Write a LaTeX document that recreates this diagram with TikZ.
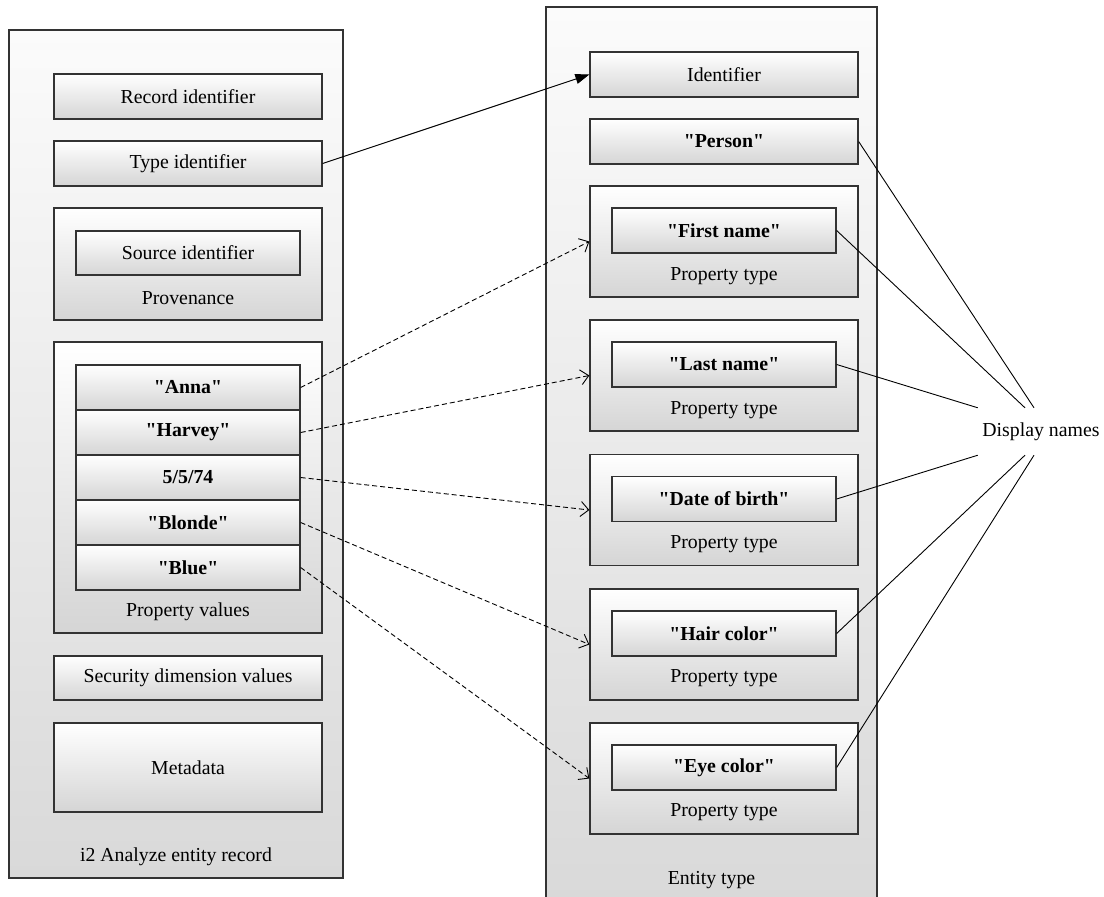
\documentclass[tikz,border=0pt]{standalone}
\usepackage{fontspec}
\setmainfont[Ligatures=TeXOff]{Liberation Serif}
\usetikzlibrary{positioning, calc, arrows.meta}
\definecolor{edge}{HTML}{333333}
\definecolor{conttop}{HTML}{FBFBFB}
\definecolor{contbot}{HTML}{D9D9D9}
\definecolor{fieldbot}{HTML}{D5D5D5}
\tikzset{
	record/.style={draw=edge, line width=1.3pt, top color=conttop, bottom color=contbot, inner sep=0pt},
	field/.style={draw=edge, line width=1.3pt, top color=white, bottom color=fieldbot, minimum width=268pt, minimum height=45pt, inner sep=0pt},
	subfield/.style={field, minimum width=224pt},
	group/.style={field, minimum height=111pt},
	caption/.style={inner sep=0pt},
	typelink/.style={line width=1pt, -{Triangle[length=14pt, width=10pt]}},
	maplink/.style={line width=0.9pt, dash pattern=on 5pt off 3pt, -{Straight Barb[length=8pt, width=15pt]}},
	namelink/.style={line width=0.9pt}
}
\begin{document}
\begin{tikzpicture}[x=1pt, y=-1pt, font=\fontsize{19.8}{23}\selectfont]
		\useasboundingbox (0, 0) rectangle (1104, 897);
		% entity record
		\node[record, minimum width=334pt, minimum height=848pt] (rec) at (176, 454) {};
		\node[field] (recid) at (188, 96.5) {Record identifier};
		\node[field] (typeid) at (188, 163.5) {Type identifier};
		\node[group, minimum height=112pt] (prov) at (188, 264) {};
		\node[subfield, minimum height=44pt] (srcid) at (188, 253) {Source identifier};
		\node[caption] (provlbl) at (188, 298) {Provenance};
		\node[group, minimum height=291pt] (pvals) at (188, 487.5) {};
		\node[subfield] (anna) at (188, 387.5) {\bfseries "Anna"};
		\node[subfield] (harvey) at (188, 432.5) {\bfseries "Harvey"};
		\node[subfield] (dob) at (188, 477.5) {\bfseries 5/5/74};
		\node[subfield] (blonde) at (188, 522.5) {\bfseries "Blonde"};
		\node[subfield] (blue) at (188, 567.5) {\bfseries "Blue"};
		\node[caption] (pvalslbl) at (188, 612) {Property values};
		\node[field, minimum height=44pt] (secdim) at (188, 678) {Security dimension values};
		\node[field, minimum height=89pt] (meta) at (188, 767.5) {Metadata};
		\node[caption] (reclbl) at (176, 857) {i2 Analyze entity record};
		% entity type
		\node[record, minimum width=331pt, minimum height=896pt] (etype) at (711.5, 455) {};
		\node[field] (ident) at (724, 74.5) {Identifier};
		\node[field] (person) at (724, 141.5) {\bfseries "Person"};
		\node[group] (ptfirst) at (724, 241.5) {};
		\node[subfield] (first) at (724, 230.5) {\bfseries "First name"};
		\node[caption] at (724, 276) {Property type};
		\node[group] (ptlast) at (724, 375.5) {};
		\node[subfield] (last) at (724, 364.5) {\bfseries "Last name"};
		\node[caption] at (724, 410) {Property type};
		\node[group] (ptbirth) at (724, 510) {};
		\node[subfield] (birth) at (724, 499) {\bfseries "Date of birth"};
		\node[caption] at (724, 544) {Property type};
		\node[group] (pthair) at (724, 644.5) {};
		\node[subfield] (hair) at (724, 633.5) {\bfseries "Hair color"};
		\node[caption] at (724, 678) {Property type};
		\node[group] (pteye) at (724, 778.5) {};
		\node[subfield] (eye) at (724, 767.5) {\bfseries "Eye color"};
		\node[caption] at (724, 812) {Property type};
		\node[caption] (etypelbl) at (711.5, 880) {Entity type};
		% display names
		\node[caption, minimum width=126pt, minimum height=47pt] (dn) at (1041, 431.5) {Display names};
		\coordinate (dnA) at ($(dn.north)+(-7, 0)$);
		\coordinate (dnB) at ($(dn.north)+(-16, 0)$);
		\coordinate (dnC) at ($(dn.south)+(-16, 0)$);
		\coordinate (dnD) at ($(dn.south)+(-7, 0)$);
		% links
		\draw[typelink] (typeid.east) -- (ident.west);
		\draw[maplink] (anna.east) -- (ptfirst.west);
		\draw[maplink] (harvey.east) -- (ptlast.west);
		\draw[maplink] (dob.east) -- (ptbirth.west);
		\draw[maplink] (blonde.east) -- (pthair.west);
		\draw[maplink] (blue.east) -- (pteye.west);
		\draw[namelink] (person.east) -- (dnA);
		\draw[namelink] (first.east) -- (dnB);
		\draw[namelink] (last.east) -- (dn.north west);
		\draw[namelink] (birth.east) -- (dn.south west);
		\draw[namelink] (hair.east) -- (dnC);
		\draw[namelink] (eye.east) -- (dnD);
	\end{tikzpicture}
\end{document}
